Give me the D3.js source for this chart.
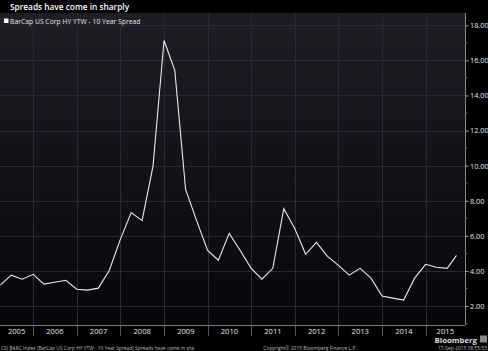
<!DOCTYPE html>
<html>
<head>
<meta charset="utf-8">
<script src="https://cdn.jsdelivr.net/npm/d3@7"></script>
<style>
  html, body { margin: 0; padding: 0; background: #000; }
  svg { display: block; }
</style>
</head>
<body>
<div id="chart"></div>
<script>
// quarterly observations, 2005Q2 -> 2015Q3
const dates = [
  "2005-04-01","2005-07-01","2005-10-01",
  "2006-01-01","2006-04-01","2006-07-01","2006-10-01",
  "2007-01-01","2007-04-01","2007-07-01","2007-10-01",
  "2008-01-01","2008-04-01","2008-07-01","2008-10-01",
  "2009-01-01","2009-04-01","2009-07-01","2009-10-01",
  "2010-01-01","2010-04-01","2010-07-01","2010-10-01",
  "2011-01-01","2011-04-01","2011-07-01","2011-10-01",
  "2012-01-01","2012-04-01","2012-07-01","2012-10-01",
  "2013-01-01","2013-04-01","2013-07-01","2013-10-01",
  "2014-01-01","2014-04-01","2014-07-01","2014-10-01",
  "2015-01-01","2015-04-01","2015-07-01","2015-09-17"
];
const spread = [
  3.19, 3.76, 3.53,
  3.81, 3.25, 3.36, 3.47,
  2.96, 2.91, 3.02, 4.04,
  5.80, 7.33, 6.87, 9.99,
  17.13, 15.43, 8.63, 6.87,
  5.17, 4.61, 6.14, 5.17,
  4.15, 3.53, 4.15, 7.55,
  6.42, 4.95, 5.63, 4.83,
  4.32, 3.76, 4.15, 3.59,
  2.57, 2.45, 2.34, 3.59,
  4.38, 4.21, 4.15, 4.89
];
const years = [2005, 2006, 2007, 2008, 2009, 2010, 2011, 2012, 2013, 2014, 2015];
const yTicks = [2, 4, 6, 8, 10, 12, 14, 16, 18];
const minorTicks = [1, 3, 5, 7, 9, 11, 13, 15, 17];

const title = "Spreads have come in sharply";
const legendLabel = "BarCap US Corp HY YTW - 10 Year Spread";
const footLeft = "CSI BARC Index (BarCap US Corp HY YTW - 10 Year Spread) Spreads have come in sha";
const footMid = "Copyright\u00A9 2015 Bloomberg Finance L.P.";
const footRight = "17-Sep-2015 08:55:53";

const W = 488, H = 351;
const plot = { left: 0, right: 465, top: 13, bottom: 325 };
const font = "'Open Sans', 'DejaVu Sans', sans-serif";

const svg = d3.select("#chart").append("svg")
  .attr("width", W).attr("height", H);

svg.append("rect").attr("width", W).attr("height", H).attr("fill", "#000");

const grad = svg.append("defs").append("linearGradient")
  .attr("id", "bg").attr("x1", 0).attr("y1", 0).attr("x2", 0).attr("y2", 1);
grad.append("stop").attr("offset", "0%").attr("stop-color", "#1d1d24");
grad.append("stop").attr("offset", "100%").attr("stop-color", "#07070b");

svg.append("rect")
  .attr("x", plot.left).attr("y", plot.top)
  .attr("width", plot.right - plot.left).attr("height", plot.bottom - plot.top)
  .attr("fill", "url(#bg)");

const parse = d3.timeParse("%Y-%m-%d");
const data = dates.map((d, i) => ({ date: parse(d), v: spread[i] }));

const x = d3.scaleTime()
  .domain([new Date(2005, 2, 29), new Date(2015, 10, 27)])
  .range([plot.left, plot.right]);

const y = d3.scaleLinear()
  .domain([0.92, 18.7])
  .range([plot.bottom, plot.top]);

// horizontal grid
svg.append("g").selectAll("line")
  .data(yTicks)
  .join("line")
  .attr("x1", plot.left).attr("x2", plot.right)
  .attr("y1", d => Math.round(y(d)) + 0.5).attr("y2", d => Math.round(y(d)) + 0.5)
  .attr("stroke", "#2a2a33").attr("stroke-width", 1);

// vertical year separators
const yearStarts = years.slice(1).map(yr => new Date(yr, 0, 1));
svg.append("g").selectAll("line")
  .data(yearStarts)
  .join("line")
  .attr("x1", d => Math.round(x(d)) + 0.5).attr("x2", d => Math.round(x(d)) + 0.5)
  .attr("y1", plot.top).attr("y2", plot.bottom)
  .attr("stroke", "#2a2a33").attr("stroke-width", 1);

// bottom tick separators
svg.append("g").selectAll("line")
  .data(yearStarts)
  .join("line")
  .attr("x1", d => Math.round(x(d)) + 0.5).attr("x2", d => Math.round(x(d)) + 0.5)
  .attr("y1", plot.bottom).attr("y2", 336)
  .attr("stroke", "#555").attr("stroke-width", 1);

// bottom line
svg.append("line")
  .attr("x1", plot.left).attr("x2", plot.right)
  .attr("y1", plot.bottom + 0.5).attr("y2", plot.bottom + 0.5)
  .attr("stroke", "#777");

// year labels, centred in the visible part of each year
svg.append("g").selectAll("text")
  .data(years)
  .join("text")
  .attr("x", yr => {
    const a = Math.max(x(new Date(yr, 0, 1)), plot.left);
    const b = Math.min(x(new Date(yr + 1, 0, 1)), plot.right);
    return (a + b) / 2;
  })
  .attr("y", 334)
  .attr("text-anchor", "middle")
  .attr("fill", "#e6e6e6")
  .attr("font-family", font)
  .attr("font-size", "7.6px")
  .text(d => d);

// right axis
const axis = svg.append("g")
  .attr("transform", `translate(${plot.right + 0.5},0)`)
  .call(d3.axisRight(y).tickValues(yTicks).tickSize(3).tickPadding(1.5).tickFormat(d3.format(".2f")));
axis.select(".domain").attr("stroke", "#888").attr("d", `M0,${plot.top}V${plot.bottom}`);
axis.selectAll(".tick line").attr("stroke", "#aaa");
axis.selectAll(".tick text")
  .attr("fill", "#e6e6e6")
  .attr("font-family", font)
  .attr("font-size", "7.3px");

svg.append("g")
  .attr("transform", `translate(${plot.right + 0.5},0)`)
  .selectAll("line")
  .data(minorTicks)
  .join("line")
  .attr("x1", 0).attr("x2", 2)
  .attr("y1", d => y(d)).attr("y2", d => y(d))
  .attr("stroke", "#666");

// the series
const line = d3.line()
  .x(d => x(d.date))
  .y(d => y(d.v));

svg.append("path")
  .datum(data)
  .attr("d", line)
  .attr("fill", "none")
  .attr("stroke", "#ececec")
  .attr("stroke-width", 1.1)
  .attr("stroke-linejoin", "miter");

// title
svg.append("text")
  .attr("x", 10).attr("y", 9.5)
  .attr("fill", "#fff")
  .attr("font-family", font)
  .attr("font-weight", 600)
  .attr("font-size", "8.3px")
  .text(title);

// legend
svg.append("rect")
  .attr("x", 0).attr("y", 15).attr("width", 129).attr("height", 12)
  .attr("fill", "#1f1f25");
svg.append("rect")
  .attr("x", 4).attr("y", 18.5).attr("width", 4.5).attr("height", 4.5)
  .attr("fill", "#fff");
svg.append("text")
  .attr("x", 10).attr("y", 24)
  .attr("fill", "#e6e6e6")
  .attr("font-family", font)
  .attr("font-size", "6.8px")
  .text(legendLabel);

// footer
const foot = svg.append("g")
  .attr("fill", "#bbb")
  .attr("font-family", font)
  .attr("font-size", "4.9px");
foot.append("text").attr("x", 1).attr("y", 349.5).text(footLeft);
foot.append("text").attr("x", 310).attr("y", 349.5).attr("text-anchor", "middle").text(footMid);
foot.append("text").attr("x", 487).attr("y", 349.5).attr("text-anchor", "end").text(footRight);

svg.append("text")
  .attr("x", 477).attr("y", 342.5)
  .attr("text-anchor", "end")
  .attr("fill", "#ddd")
  .attr("font-family", font)
  .attr("font-weight", 700)
  .attr("font-size", "7.8px")
  .text("Bloomberg");
svg.append("rect")
  .attr("x", 480).attr("y", 335.5).attr("width", 7).attr("height", 7)
  .attr("fill", "#888");
</script>
</body>
</html>
